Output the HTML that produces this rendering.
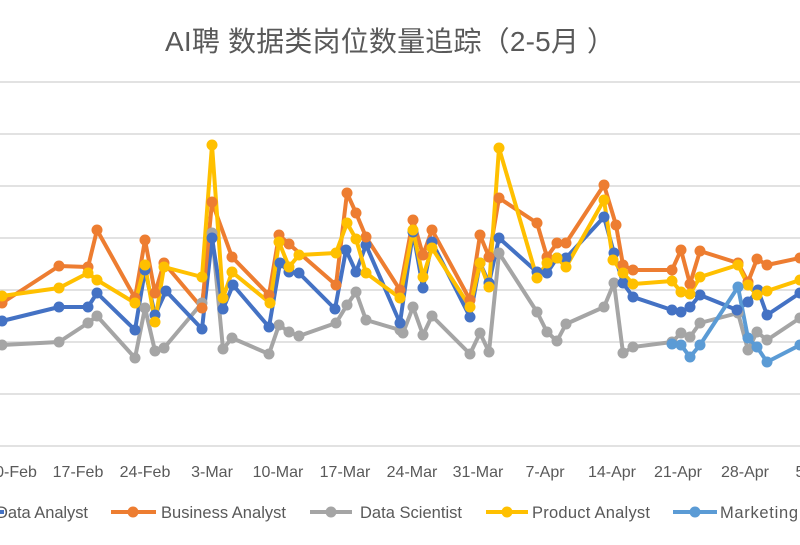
<!DOCTYPE html>
<html><head><meta charset="utf-8"><style>
html,body{margin:0;padding:0;background:#fff;width:800px;height:545px;overflow:hidden}
svg{display:block;font-family:"Liberation Sans","Noto Sans CJK SC",sans-serif}
</style></head><body>
<svg width="800" height="545" viewBox="0 0 800 545">
<text x="390" y="51" text-anchor="middle" font-size="28" fill="#595959" textLength="450">AI聘 数据类岗位数量追踪（2-5月 ）</text>
<g stroke="#d9d9d9" stroke-width="1.5">
<line x1="0" y1="82" x2="800" y2="82"/><line x1="0" y1="134" x2="800" y2="134"/><line x1="0" y1="186" x2="800" y2="186"/><line x1="0" y1="238" x2="800" y2="238"/><line x1="0" y1="290" x2="800" y2="290"/><line x1="0" y1="342" x2="800" y2="342"/><line x1="0" y1="394" x2="800" y2="394"/><line x1="0" y1="446" x2="800" y2="446"/>
</g>
<g font-size="16" fill="#595959" text-anchor="middle">
<text x="16" y="477">0-Feb</text><text x="78" y="477">17-Feb</text><text x="145" y="477">24-Feb</text><text x="212" y="477">3-Mar</text><text x="278" y="477">10-Mar</text><text x="345" y="477">17-Mar</text><text x="412" y="477">24-Mar</text><text x="478" y="477">31-Mar</text><text x="545" y="477">7-Apr</text><text x="612" y="477">14-Apr</text><text x="678" y="477">21-Apr</text><text x="745" y="477">28-Apr</text><text x="800" y="477">5</text>
</g>
<g fill="none" stroke-width="4" stroke-linejoin="round">
<polyline stroke="#a5a5a5" points="2,345 59,342 88,323 97,316 135,358 145,308 155,351 164,348 202,303 212,233 223,349 232,338 269,354 279,325 289,332 299,336 336,323 347,305 356,292 366,320 400,330 403,333 413,307 423,335 432,316 470,354 480,333 489,352 499,253 537,312 547,332 557,341 566,324 604,307 614,283 623,353 633,347 672,342 681,333 690,337 700,323 738,313 748,350 757,332 767,340 800,318"/>
<polyline stroke="#4472c4" points="2,321 59,307 88,307 97,293 135,330 145,270 155,315 166,291 202,329 212,238 223,309 233,285 269,327 280,263 289,272 299,273 335,309 346,250 356,272 366,245 400,323 413,232 423,288 432,242 470,317 480,263 489,283 499,238 537,272 547,273 557,258 566,258 604,217 614,253 623,283 633,297 672,310 681,312 690,307 700,295 737,310 748,302 758,290 767,315 800,293"/>
<polyline stroke="#ed7d31" points="2,303 59,266 88,267 97,230 135,298 145,240 155,293 164,263 202,308 212,202 232,257 269,295 279,235 289,244 336,285 347,193 356,213 366,237 400,290 413,220 423,255 432,230 470,300 480,235 489,257 499,198 537,223 547,257 557,243 566,243 604,185 616,225 623,265 633,270 672,270 681,250 690,284 700,251 738,263 748,282 757,259 767,265 800,258"/>
<polyline stroke="#ffc000" points="2,296 59,288 88,273 97,280 135,303 145,265 155,322 164,267 202,277 212,145 223,298 232,272 270,303 279,242 289,267 299,255 336,253 347,223 356,239 366,273 400,298 413,230 423,277 432,248 470,307 480,263 489,287 499,148 537,278 547,263 557,258 566,267 604,200 613,260 623,273 633,284 672,281 681,292 690,294 700,277 738,265 748,285 757,295 767,291 800,280"/>
<polyline stroke="#5b9bd5" points="672,344 681,345 690,357 700,345 738,287 748,338 757,347 767,362 800,345"/>
</g>
<g id="markers"></g>
<g font-size="16.5" fill="#595959">
<line x1="-30" y1="512" x2="4" y2="512" stroke="#4472c4" stroke-width="4"/><text x="-4" y="518" textLength="92">Data Analyst</text>
<line x1="111" y1="512" x2="156" y2="512" stroke="#ed7d31" stroke-width="4"/><circle cx="133" cy="512" r="5.5" fill="#ed7d31"/><text x="161" y="518" textLength="125">Business Analyst</text>
<line x1="310" y1="512" x2="352" y2="512" stroke="#a5a5a5" stroke-width="4"/><circle cx="331" cy="512" r="5.5" fill="#a5a5a5"/><text x="360" y="518" textLength="102">Data Scientist</text>
<line x1="486" y1="512" x2="528" y2="512" stroke="#ffc000" stroke-width="4"/><circle cx="507" cy="512" r="5.5" fill="#ffc000"/><text x="532" y="518" textLength="118">Product Analyst</text>
<line x1="673" y1="512" x2="717" y2="512" stroke="#5b9bd5" stroke-width="4"/><circle cx="695" cy="512" r="5.5" fill="#5b9bd5"/><text x="720" y="518" textLength="78">Marketing</text>
</g>
<script>
document.querySelectorAll('polyline').forEach(function(p){
 var c=p.getAttribute('stroke');var g=document.getElementById('markers');
 p.getAttribute('points').trim().split(/\s+/).forEach(function(s){var a=s.split(',');
  var e=document.createElementNS('http://www.w3.org/2000/svg','circle');
  e.setAttribute('cx',a[0]);e.setAttribute('cy',a[1]);e.setAttribute('r','5.5');e.setAttribute('fill',c);g.appendChild(e);});
});
</script>
</svg>
</body></html>
